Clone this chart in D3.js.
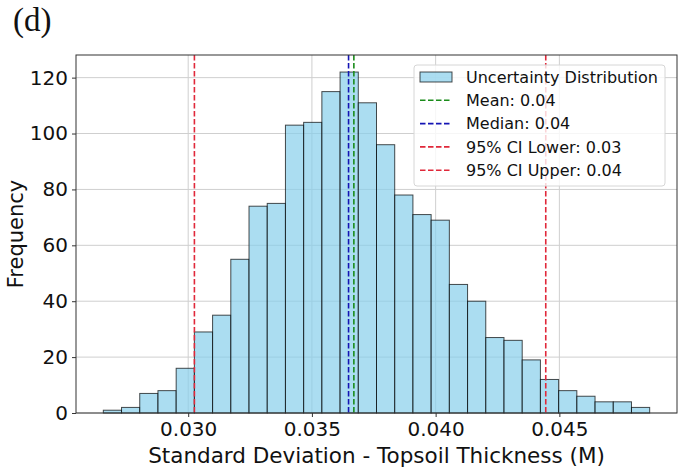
<!DOCTYPE html>
<html>
<head>
<meta charset="utf-8">
<script src="https://cdn.jsdelivr.net/npm/d3@7"></script>
<style>
  body { margin: 0; background: #fff; }
  svg { display: block; font-family: "DejaVu Sans", sans-serif; }
</style>
</head>
<body>
<div id="chart"></div>
<script>
// histogram bins
const binStart = 0.02657;
const binWidth = 0.000736;
const counts = [1, 2, 7, 8, 16, 29, 35, 55, 74, 75, 103, 104, 115, 122, 111,
                96, 78, 71, 69, 46, 40, 27, 26, 19, 12, 8, 6, 4, 4, 2];

// reference lines
const refLabels = ['Mean: 0.04', 'Median: 0.04', '95% CI Lower: 0.03', '95% CI Upper: 0.04'];
const refValues = [0.036695, 0.036481, 0.030251, 0.044450];
const refColors = ['#1a8c1a', '#1414b4', '#e0283a', '#e0283a'];

const xTicks = [0.030, 0.035, 0.040, 0.045];
const yTicks = [0, 20, 40, 60, 80, 100, 120];

const width = 686;
const height = 473;
const margin = { top: 55, right: 9, bottom: 60, left: 76 };

const bins = counts.map((c, i) => ({
  x0: binStart + i * binWidth,
  x1: binStart + (i + 1) * binWidth,
  count: c,
}));

const svg = d3.select('#chart')
  .append('svg')
  .attr('width', width)
  .attr('height', height);

const dataMin = bins[0].x0;
const dataMax = bins[bins.length - 1].x1;
const pad = (dataMax - dataMin) * 0.05;

const xScale = d3.scaleLinear()
  .domain([dataMin - pad, dataMax + pad])
  .range([margin.left, width - margin.right]);

const yScale = d3.scaleLinear()
  .domain([0, d3.max(counts) * 1.05])
  .range([height - margin.bottom, margin.top]);

const plotW = width - margin.left - margin.right;
const plotH = height - margin.top - margin.bottom;

// grid
const grid = svg.append('g').attr('class', 'grid');
grid.selectAll('line.gy')
  .data(yTicks)
  .join('line')
  .attr('x1', margin.left)
  .attr('x2', width - margin.right)
  .attr('y1', (d) => yScale(d))
  .attr('y2', (d) => yScale(d))
  .attr('stroke', '#cfcfcf')
  .attr('stroke-width', 1);
grid.selectAll('line.gx')
  .data(xTicks)
  .join('line')
  .attr('y1', margin.top)
  .attr('y2', height - margin.bottom)
  .attr('x1', (d) => xScale(d))
  .attr('x2', (d) => xScale(d))
  .attr('stroke', '#cfcfcf')
  .attr('stroke-width', 1);

// bars
svg.append('g')
  .selectAll('rect')
  .data(bins)
  .join('rect')
  .attr('x', (d) => xScale(d.x0))
  .attr('width', (d) => xScale(d.x1) - xScale(d.x0))
  .attr('y', (d) => yScale(d.count))
  .attr('height', (d) => yScale(0) - yScale(d.count))
  .attr('fill', 'skyblue')
  .attr('fill-opacity', 0.7)
  .attr('stroke', '#000')
  .attr('stroke-opacity', 0.7)
  .attr('stroke-width', 1);

// dashed reference lines
svg.append('g')
  .selectAll('line')
  .data(refValues)
  .join('line')
  .attr('x1', (d) => xScale(d))
  .attr('x2', (d) => xScale(d))
  .attr('y1', margin.top)
  .attr('y2', height - margin.bottom)
  .attr('stroke', (d, i) => refColors[i])
  .attr('stroke-width', 1.6)
  .attr('stroke-dasharray', '5.5,2.5');

// axes
const xAxis = svg.append('g')
  .attr('transform', `translate(0,${height - margin.bottom})`)
  .call(d3.axisBottom(xScale).tickValues(xTicks).tickFormat(d3.format('.3f')).tickSize(4).tickPadding(5));
const yAxis = svg.append('g')
  .attr('transform', `translate(${margin.left},0)`)
  .call(d3.axisLeft(yScale).tickValues(yTicks).tickSize(4).tickPadding(4));

[xAxis, yAxis].forEach((ax) => {
  ax.select('.domain').remove();
  ax.selectAll('text')
    .attr('font-family', '"DejaVu Sans", sans-serif')
    .attr('font-size', 20)
    .attr('fill', '#111');
  ax.selectAll('line').attr('stroke', '#333');
});

// frame
svg.append('rect')
  .attr('x', margin.left)
  .attr('y', margin.top)
  .attr('width', plotW)
  .attr('height', plotH)
  .attr('fill', 'none')
  .attr('stroke', '#333')
  .attr('stroke-width', 1);

// axis labels
svg.append('text')
  .attr('x', margin.left + plotW / 2)
  .attr('y', 463)
  .attr('text-anchor', 'middle')
  .attr('font-size', 21.5)
  .attr('fill', '#111')
  .text('Standard Deviation - Topsoil Thickness (M)');

svg.append('text')
  .attr('transform', `translate(23,${margin.top + plotH / 2}) rotate(-90)`)
  .attr('text-anchor', 'middle')
  .attr('font-size', 21)
  .attr('fill', '#111')
  .text('Frequency');

// panel letter
svg.append('text')
  .attr('x', 13)
  .attr('y', 31)
  .attr('font-family', '"Liberation Serif", serif')
  .attr('font-size', 33)
  .attr('fill', '#111')
  .text('(d)');

// legend
const legend = svg.append('g').attr('transform', 'translate(414,65)');
legend.append('rect')
  .attr('width', 251)
  .attr('height', 121)
  .attr('rx', 3)
  .attr('fill', '#fff')
  .attr('fill-opacity', 0.8)
  .attr('stroke', '#d6d6d6');

const rowY = (i) => 12 + i * 23.3;

legend.append('rect')
  .attr('x', 6)
  .attr('y', rowY(0) - 5)
  .attr('width', 32)
  .attr('height', 10)
  .attr('fill', 'skyblue')
  .attr('fill-opacity', 0.7)
  .attr('stroke', '#000')
  .attr('stroke-opacity', 0.7);

legend.append('text')
  .attr('x', 52)
  .attr('y', rowY(0))
  .attr('dy', '0.35em')
  .attr('font-size', 16)
  .attr('fill', '#111')
  .text('Uncertainty Distribution');

refLabels.forEach((label, i) => {
  const y = rowY(i + 1);
  legend.append('line')
    .attr('x1', 6)
    .attr('x2', 38)
    .attr('y1', y)
    .attr('y2', y)
    .attr('stroke', refColors[i])
    .attr('stroke-width', 1.6)
    .attr('stroke-dasharray', '5.5,2.5');
  legend.append('text')
    .attr('x', 52)
    .attr('y', y)
    .attr('dy', '0.35em')
    .attr('font-size', 16)
    .attr('fill', '#111')
    .text(label);
});
</script>
</body>
</html>
